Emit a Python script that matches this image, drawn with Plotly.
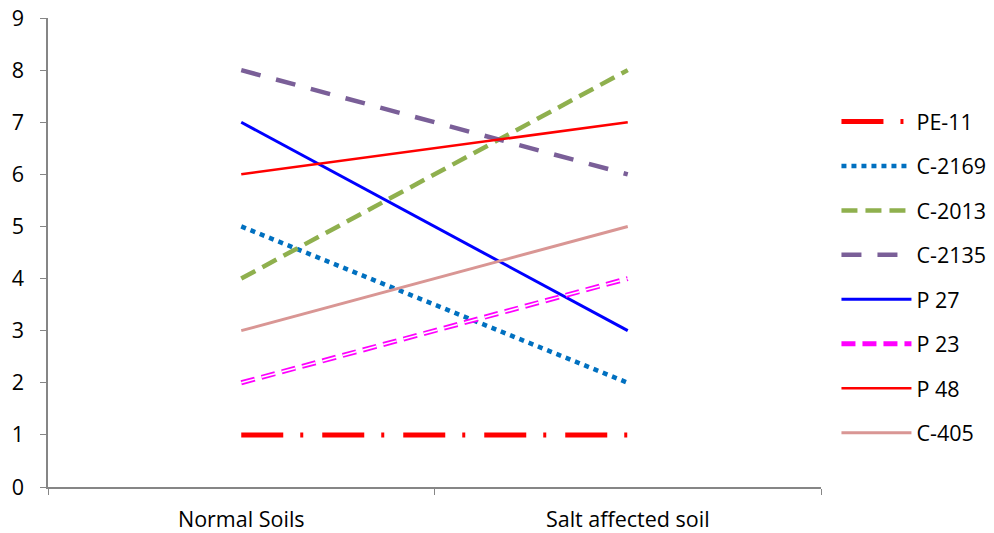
import plotly.graph_objects as go

categories = ["Normal Soils", "Salt affected soil"]
series_names = ["PE-11", "C-2169", "C-2013", "C-2135", "P 27", "P 23", "P 48", "C-405"]
pe11 = [1, 1]
c2169 = [5, 2]
c2013 = [4, 8]
c2135 = [8, 6]
p27 = [7, 3]
p23 = [2, 4]
p48 = [6, 7]
c405 = [3, 5]
y_ticks = list(range(0, 10))

styles = {
    "PE-11": dict(color="#FF0000", width=5, dash="42px,17px,3px,19px"),
    "C-2169": dict(color="#0070C0", width=4.5, dash="5px,5px"),
    "C-2013": dict(color="#8FB04E", width=4.5, dash="16px,8px"),
    "C-2135": dict(color="#7A5F98", width=4.5, dash="20px,16px"),
    "P 27": dict(color="#0000FF", width=3, dash="solid"),
    "P 23": dict(color="#FF00FF", width=5, dash="14px,7px"),
    "P 48": dict(color="#FF0000", width=2.5, dash="solid"),
    "C-405": dict(color="#D99694", width=3, dash="solid"),
}
values = [pe11, c2169, c2013, c2135, p27, p23, p48, c405]

fig = go.Figure()
for name, vals in zip(series_names, values):
    fig.add_trace(go.Scatter(x=categories, y=vals, mode="lines", name=name,
                             line=styles[name], legendgroup=name))
    if name == "P 23":
        fig.add_trace(go.Scatter(x=categories, y=vals, mode="lines", name=name,
                                 line=dict(color="white", width=1.5, dash="14px,7px"),
                                 legendgroup=name, showlegend=False, hoverinfo="skip"))

font = dict(family="Open Sans, Lato, sans-serif", size=21.5, color="#000000")
fig.update_layout(
    width=994, height=533,
    margin=dict(l=48, r=173, t=18, b=46, autoexpand=False),
    paper_bgcolor="white", plot_bgcolor="white",
    font=font,
    showlegend=True,
    legend=dict(x=1.02, xanchor="left", y=0.823, yanchor="top",
                font=font, tracegroupgap=13.5, itemwidth=70,
                bgcolor="rgba(0,0,0,0)"),
    xaxis=dict(type="category", range=[-0.5, 1.5], tickson="boundaries",
               showline=True, linecolor="#868686", linewidth=1.5,
               ticks="outside", ticklen=6, tickcolor="#868686",
               ticklabelstandoff=12,
               showgrid=False, zeroline=False, tickfont=font),
    yaxis=dict(range=[0, 9], tickvals=y_ticks, showline=True,
               linecolor="#868686", linewidth=1.5, ticks="outside",
               ticklen=6, tickcolor="#868686", showgrid=False,
               ticklabelstandoff=12,
               zeroline=False, tickfont=font),
)
fig.write_html("out.html")
